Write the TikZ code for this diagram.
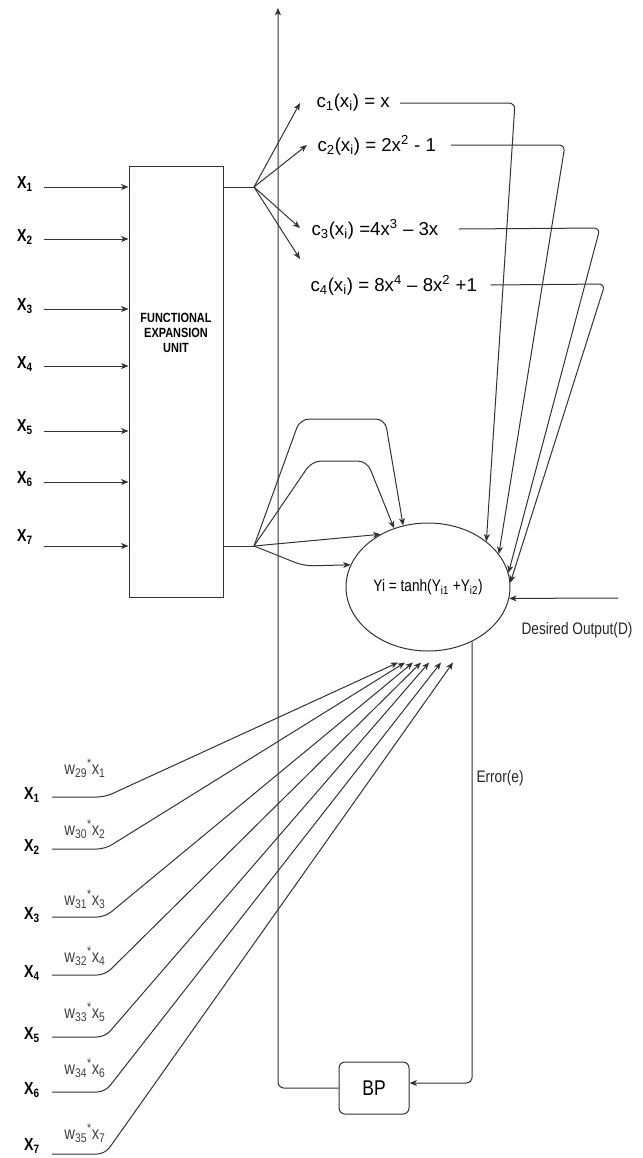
\documentclass[tikz,border=0pt]{standalone}
\usepackage{fontspec}
\setmainfont{Liberation Sans}
\newfontfamily\narrowsf[FakeStretch=0.82]{Liberation Sans}
\usetikzlibrary{arrows.meta, shapes.geometric, calc}

\tikzset{
  >={Stealth[length=5.5pt,width=4.5pt,inset=1.5pt]},
  % blocchi
  feubox/.style={draw=black!80,line width=0.75pt,minimum width=70.5pt,minimum height=323.25pt,inner sep=0},
  feutext/.style={align=center,inner sep=0,font=\narrowsf\bfseries\fontsize{10}{11.5}\selectfont},
  neuron/.style={ellipse,draw=black!80,line width=0.75pt,minimum width=123pt,minimum height=96pt,inner sep=0,
    font=\narrowsf\fontsize{12.5}{14}\selectfont},
  bpbox/.style={draw=black!80,line width=0.75pt,rounded corners=4.5pt,minimum width=52.5pt,minimum height=39pt,
    font=\narrowsf\fontsize{16}{18}\selectfont},
  % testi
  xin/.style={inner sep=0,font=\narrowsf\bfseries\fontsize{13}{15}\selectfont},
  cfun/.style={anchor=west,inner sep=0,font=\fontsize{14}{16}\selectfont},
  wlbl/.style={inner sep=0,text=black!75,font=\narrowsf\fontsize{13.5}{15}\selectfont},
  note/.style={inner sep=0,text=black!85,font=\narrowsf\fontsize{12.5}{14}\selectfont}
}

\begin{document}
\begin{tikzpicture}[x=0.75pt,y=-0.75pt,line width=0.75pt,draw=black!80,
      arr/.style={->,draw=black!80}]
      \useasboundingbox (0,0) rectangle (643,1158);

      \node[feubox] (feu) at (176,381.5) {};
      \node[feutext] (feutxt) at (176,333) {FUNCTIONAL\\EXPANSION\\UNIT};

      \foreach \i/\y/\ly in {1/187/184,2/239/237,3/309/306,4/366/364,5/431/427,6/482/479,7/546/537}{
        \node[xin] (in\i) at (25,\ly) {X\textsubscript{\i}};
        \coordinate (s\i) at (44,\y);
        \draw[arr] (s\i) -- (s\i -| feu.west);
      }

      \coordinate (b1) at (254,187);
      \coordinate (b2) at (254,546);
      \draw (feu.east |- b1) -- (b1);
      \draw (feu.east |- b2) -- (b2);

      \node[cfun] (c1) at (316,103) {c\textsubscript{1}(x\textsubscript{i}) = x};
      \node[cfun] (c2) at (317,145) {c\textsubscript{2}(x\textsubscript{i}) = 2x\textsuperscript{2} - 1};
      \node[cfun] (c3) at (311,229) {c\textsubscript{3}(x\textsubscript{i}) =4x\textsuperscript{3} – 3x};
      \node[cfun] (c4) at (310,285) {c\textsubscript{4}(x\textsubscript{i}) = 8x\textsuperscript{4} – 8x\textsuperscript{2} +1};
      \coordinate (t1) at (300,103);
      \coordinate (t2) at (307,145);
      \coordinate (t3) at (300,228);
      \coordinate (t4) at (300,259);
      \foreach \i in {1,...,4}
        \draw[arr] (b1) -- (t\i);

      \node[neuron] (E) at (428,587) {Yi = tanh(Y\textsubscript{i1} +Y\textsubscript{i2})};

      \draw[arr,rounded corners=4.5pt] ([xshift=7.5pt]c1.east) -- (515,103) -- (E.38);
      \draw[arr,rounded corners=4.5pt] ([xshift=11pt]c2.east) -- (565,145) -- (E.25);
      \draw[arr,rounded corners=4.5pt] ([xshift=15pt]c3.east) -- (600,228) -- (E.10);
      \draw[arr,rounded corners=4.5pt] ([xshift=10pt]c4.east) -- (605,284) -- (E.3);

      \draw[arr,rounded corners=7pt] (b2) -- (300,419) -- (385,419) -- (E.112);
      \draw[arr,rounded corners=7pt] (b2) -- (312,461) -- (367,461) -- (E.120);
      \draw[arr] (b2) -- (E.132);
      \draw[arr,rounded corners=7pt] (b2) -- (304,566) -- (E.164);

      \coordinate (dsrc) at (618,598);
      \draw[arr] (dsrc) -- (E.-8);
      \node[note] (dlbl) at (577,630) {Desired Output(D)};

      \node[bpbox] (bp) at (374,1088) {BP};
      \coordinate (top) at (278,8);
      \draw[arr,rounded corners=4.5pt] (bp.west) -| (top);
      \draw[arr,rounded corners=4.5pt] (E.-51) |- ([yshift=3.75pt]bp.east);
      \node[note,anchor=west] (elbl) at (476,778) {Error(e)};

      \foreach \i/\y/\ly/\wy/\w/\dx in {1/797/795/768/29/-30,2/849/847/829/30/-23,3/917/915/899/31/-15,
                                      4/975/973/956/32/-7,5/1037/1035/1012/33/1,6/1092/1090/1068/34/13,
                                      7/1154/1146/1133/35/25}{
        \node[xin] (bx\i) at (32,\ly) {X\textsubscript{\i}};
        \node[wlbl] (w\i) at (85,\wy) {w\textsubscript{\w}\textsuperscript{*}x\textsubscript{\i}};
        \coordinate (ws\i) at (52,\y);
        \draw[arr,rounded corners=6pt] (ws\i) -- (105,\y) -- ([shift={(\dx,11)}]E.south);
      }
    \end{tikzpicture}
\end{document}
